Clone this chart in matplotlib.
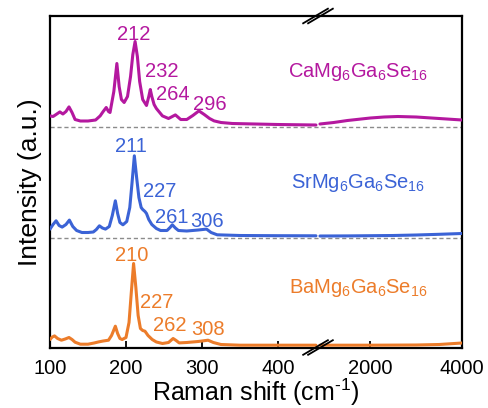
import numpy as np
import matplotlib
matplotlib.use("Agg")
import matplotlib.pyplot as plt
from matplotlib.scale import FuncScale

plt.rcParams['font.family'] = ['Liberation Sans', 'DejaVu Sans']
plt.rcParams['mathtext.fontset'] = 'custom'
plt.rcParams['mathtext.rm'] = 'Liberation Sans'
plt.rcParams['mathtext.it'] = 'Liberation Sans:italic'

# ---------------- data ----------------
ca_x = [100, 104, 108, 113, 117, 121, 125, 129, 133, 140, 150, 160, 166, 170, 174, 177, 179,
        184, 188, 191, 194, 197.6, 202, 206, 209, 212, 215, 218, 222, 227, 230, 232, 234, 237,
        240, 248, 256, 261, 265, 269, 272, 280, 288, 296, 303, 310, 316, 325, 340, 370, 400, 450]
ca_y = [10.6, 10, 12, 14.6, 12.5, 15, 19.6, 14, 7, 5.5, 5.5, 6.5, 10.6, 15, 19, 15, 14,
        35, 63, 40, 27, 24, 30, 50, 72, 85, 70, 45, 27, 21, 30, 37, 30, 22,
        18, 10.6, 8, 10, 11.6, 9, 7, 7, 11, 15.6, 12, 8, 5.6, 4, 3, 2.5, 2, 1.5]
ca_hx = [900, 1200, 1500, 2000, 2300, 2600, 3000, 3500, 4000]
ca_hy = [2.5, 4, 6, 8.5, 9.5, 10, 9.5, 8, 6.5]

sr_x = [100, 104, 108, 112, 116, 121, 125.5, 130, 135, 142, 150, 157, 161, 165, 169, 173, 178,
        182, 186, 189, 192, 196, 201, 205, 208, 211, 214, 217, 220, 222, 225, 227, 230, 234,
        240, 245.5, 254, 258, 261, 265, 269, 280, 295, 306, 312, 320, 350, 400, 450]
sr_y = [8.4, 13, 16.7, 12, 10.4, 13, 17.4, 11, 7, 5, 5, 5.5, 8, 11.7, 9.5, 8.4, 11,
        22, 36.7, 24, 15, 12.7, 16, 30, 55, 81.7, 60, 40, 30, 28, 26, 24, 18, 13,
        9, 7, 7, 10, 12.7, 9.5, 7, 6.5, 7.5, 8.4, 5, 2.7, 2, 1.8, 1.7]
sr_hx = [900, 1500, 2000, 2500, 3000, 3500, 4000]
sr_hy = [1.5, 1.6, 1.8, 2, 2.5, 3.2, 4]

ba_x = [100, 103, 106, 110, 115, 120, 125, 129, 133, 140, 150, 158, 164, 170, 177, 181, 186,
        189, 192, 195, 200, 204, 207, 210, 213, 216, 219, 222, 225, 229, 234.5, 240, 248, 256,
        262, 266, 270, 280, 295, 308, 315, 325, 350, 450]
ba_y = [8, 10.5, 11.6, 9, 7.3, 8.5, 10, 8, 5.3, 3.3, 3.3, 4.5, 5.6, 6.5, 7.3, 12, 21.3,
        14, 9, 8, 10, 25, 55, 84, 60, 32, 19, 17, 16.3, 12, 8, 5.5, 4, 5,
        9, 7, 4.6, 5, 6, 7.3, 5, 3, 2.3, 2.3]
ba_hx = [900, 2000, 3000, 3500, 4000]
ba_hy = [2.3, 2.3, 2.5, 3, 4.5]

offsets = [221, 110, 0]
names = [r'CaMg$_6$Ga$_6$Se$_{16}$', r'SrMg$_6$Ga$_6$Se$_{16}$', r'BaMg$_6$Ga$_6$Se$_{16}$']
colors = ['#B4189F', '#3B63D6', '#EC7C2A']
peak_labels = [['212', '232', '264', '296'], ['211', '227', '261', '306'], ['210', '227', '262', '308']]
peak_lx = [[210.5, 246.7, 261.8, 309.9], [206.6, 244, 260.5, 306.6], [207.2, 240.4, 257.2, 308.6]]
peak_ly = [[307.5, 270.5, 247.5, 237.5], [195.5, 150.5, 124.5, 120.5], [86.5, 39.5, 16.5, 12.5]]
name_x = 1729
name_y = [270.5, 159.5, 54.5]

xticks = [100, 200, 300, 400, 2000, 4000]

# ---------------- broken scale ----------------
R = 0.0603
G = 5.3

def fwd(x):
    x = np.asarray(x, dtype=float)
    return np.where(x <= 450, x - 100,
                    np.where(x <= 900, 350 + (x - 450) * G / 450.0,
                             350 + G + (x - 900) * R))

def inv(u):
    u = np.asarray(u, dtype=float)
    return np.where(u <= 350, u + 100,
                    np.where(u <= 350 + G, 450 + (u - 350) * 450.0 / G,
                             900 + (u - 350 - G) / R))

fig = plt.figure(figsize=(4.88, 4.08), dpi=100)
ax = fig.add_axes([50 / 488, (408 - 347.5) / 408, 412 / 488, 331.5 / 408])
ax.set_xscale(FuncScale(ax, (fwd, inv)))
ax.set_xlim(100, 4000)
ax.set_ylim(0, 331.5)

series = [(ca_x, ca_y, ca_hx, ca_hy), (sr_x, sr_y, sr_hx, sr_hy), (ba_x, ba_y, ba_hx, ba_hy)]
for i, (lx, ly, hx, hy) in enumerate(series):
    off = offsets[i]
    if off > 0:
        ax.axhline(off, color='#8c8c8c', ls=(0, (3, 2)), lw=1.0, zorder=1)
    ax.plot(lx, np.array(ly) + off, color=colors[i], lw=2.2, solid_joinstyle='round',
            solid_capstyle='round', zorder=3)
    ax.plot(hx, np.array(hy) + off, color=colors[i], lw=2.2, solid_joinstyle='round',
            solid_capstyle='round', zorder=3)
    for t, px, py in zip(peak_labels[i], peak_lx[i], peak_ly[i]):
        ax.text(px, py, t, color=colors[i], fontsize=14.5, ha='center', va='baseline')
    ax.text(name_x, name_y[i], names[i], color=colors[i], fontsize=14.5, ha='center', va='baseline')

ax.set_xticks(xticks)
ax.set_xticklabels([str(v) for v in xticks])
ax.minorticks_off()
ax.tick_params(axis='x', direction='in', length=5, width=1.3, labelsize=14.5, pad=8, top=False)
ax.set_yticks([])
for s in ax.spines.values():
    s.set_linewidth(1.6)

ax.set_xlabel(r'Raman shift (cm$^{\text{-}1}$)', fontsize=18, labelpad=-1)
ax.set_ylabel('Intensity (a.u.)', fontsize=19, labelpad=6)

# break marks
bx = (318 - 50) / 412
for by in (0, 1):
    for dx in (-0.006, 0.006):
        ax.plot([bx + dx - 0.03, bx + dx + 0.03], [by - 0.022, by + 0.022],
                transform=ax.transAxes, color='black', lw=1.3, clip_on=False, zorder=5)

fig.savefig('out.png', dpi=100)
